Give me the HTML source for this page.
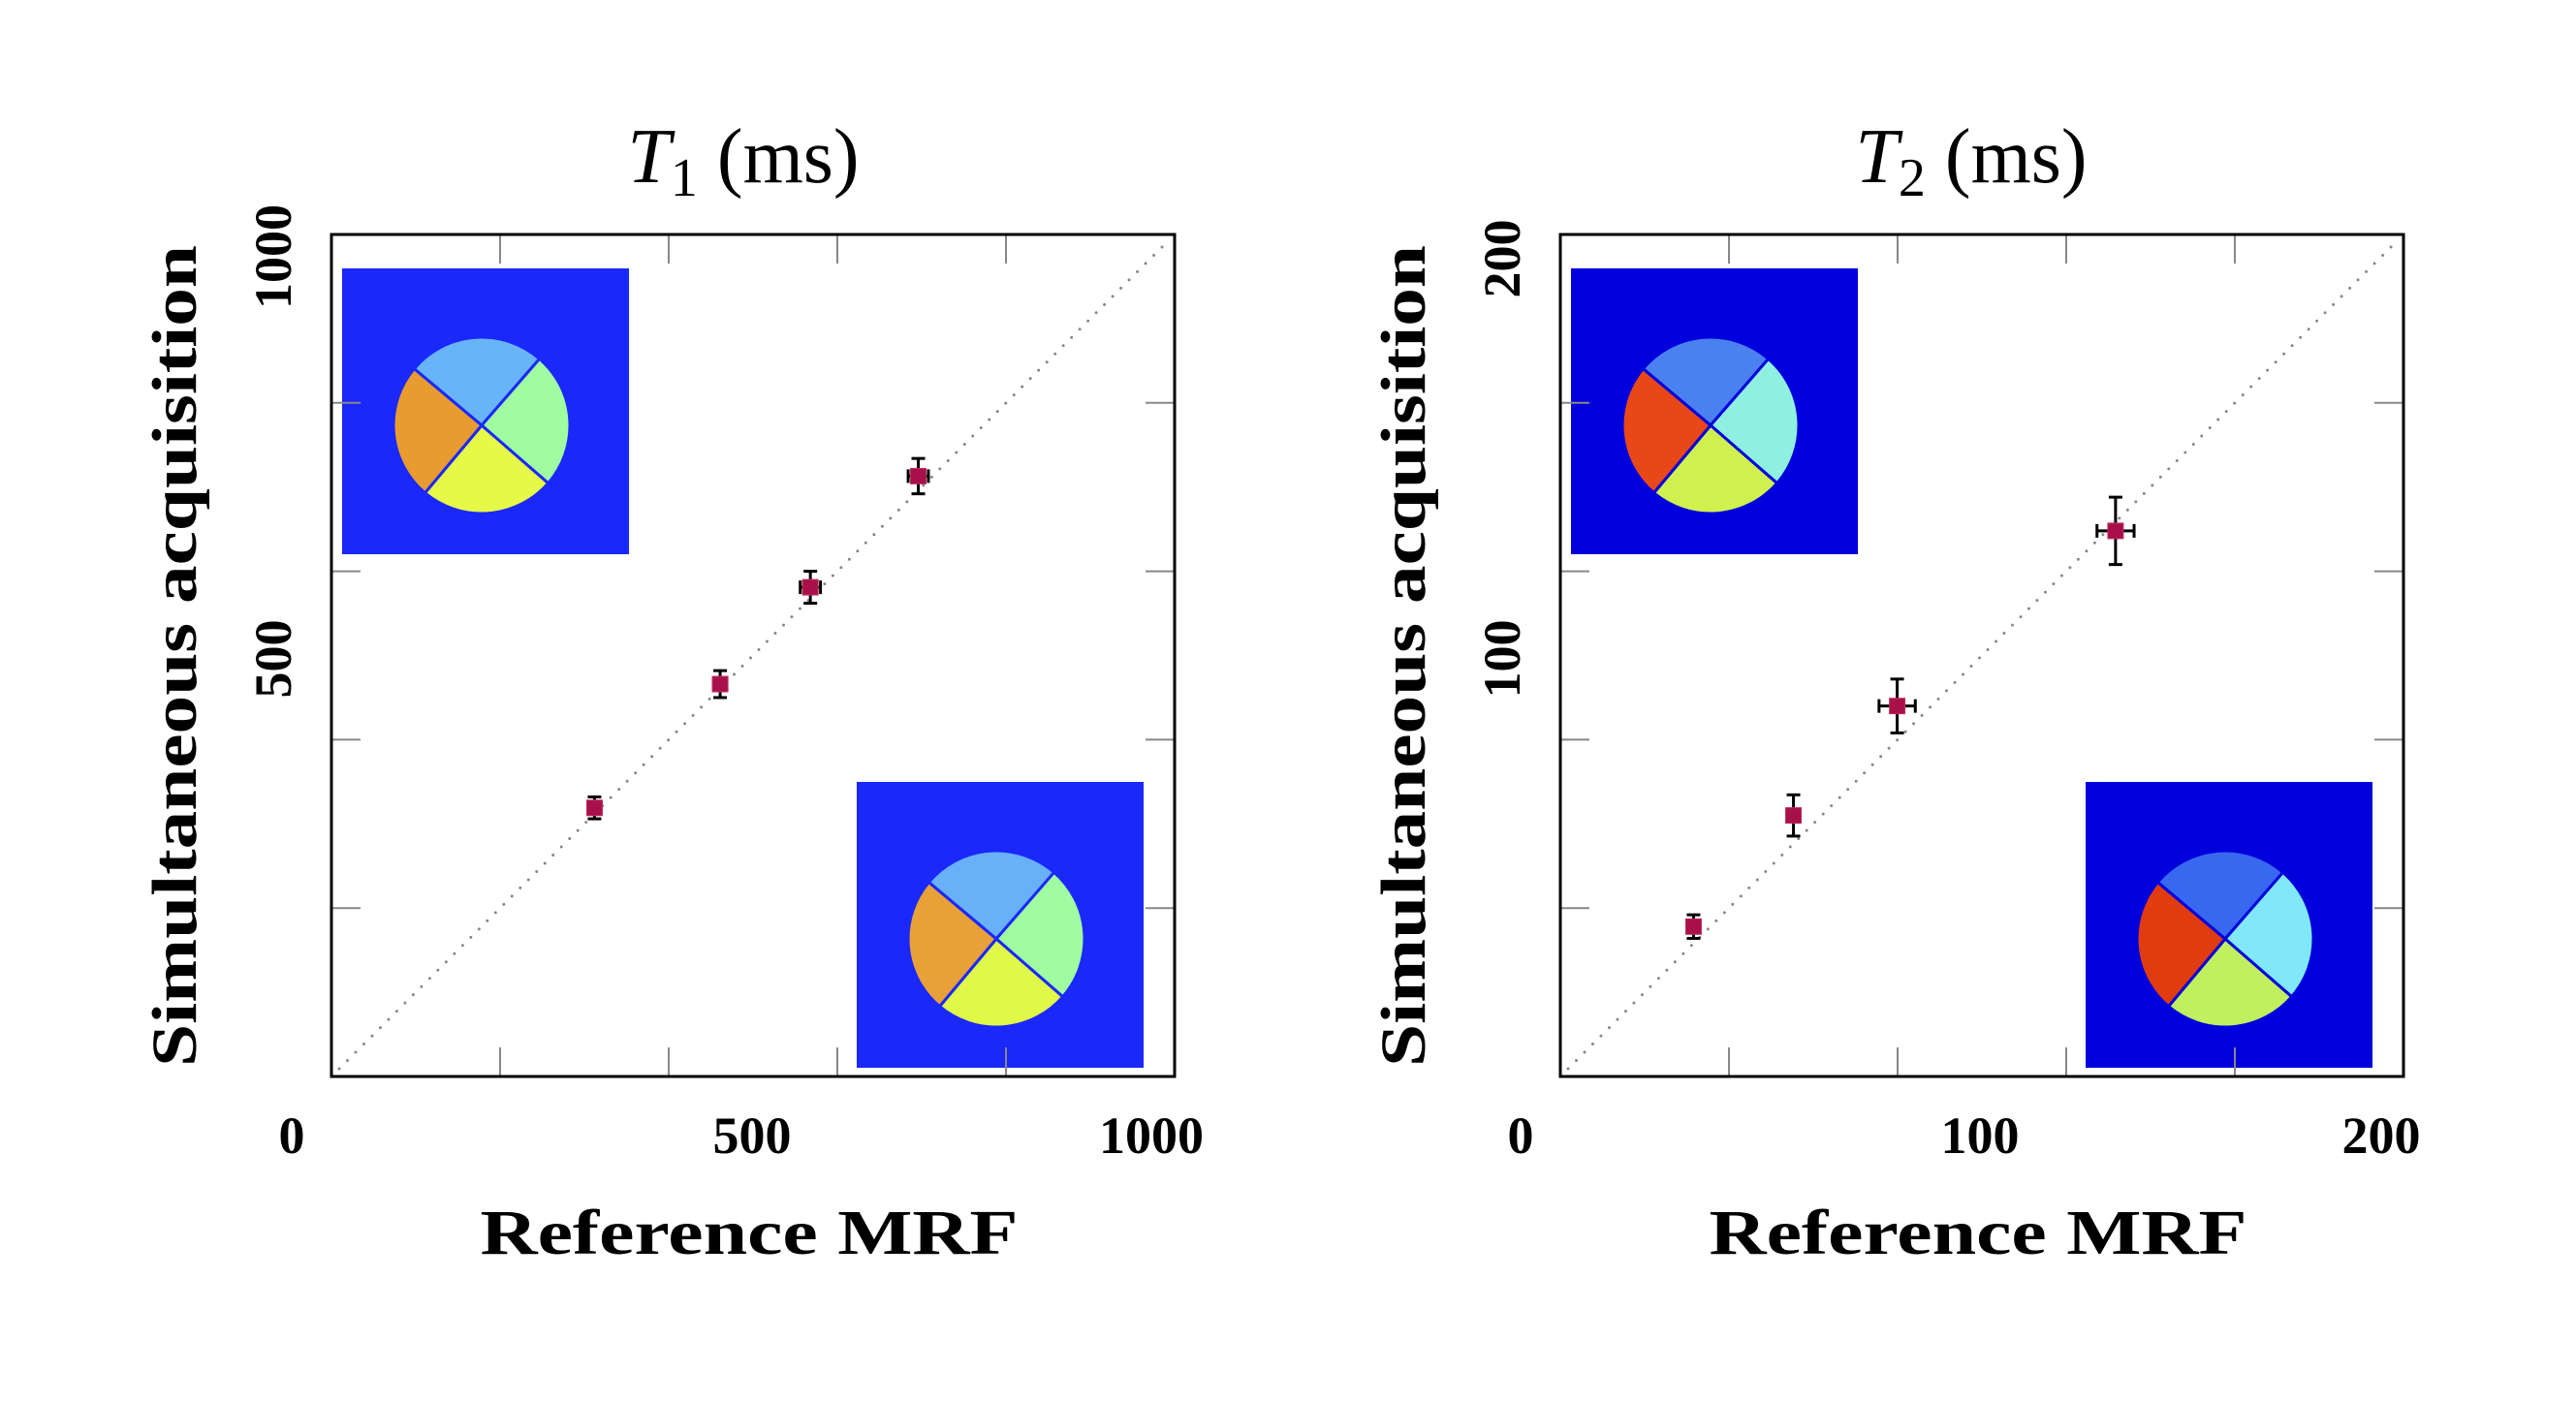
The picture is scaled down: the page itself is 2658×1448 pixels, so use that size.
<!DOCTYPE html>
<html><head><meta charset="utf-8"><style>
html,body{margin:0;padding:0;background:#fff;}
svg{display:block;}
text{font-family:"Liberation Serif",serif;fill:#000;}
</style></head><body>
<svg id="chart" width="2658" height="1448" viewBox="0 0 2658 1448" xmlns="http://www.w3.org/2000/svg">
<g id="p1"></g>
<g id="p2"></g>
</svg>
<script>
// ---- T1 data (ms) ----
const t1Ref = [312, 461, 568, 696];
const t1Sim = [319, 466, 581, 713];
const t1RefErr = [8, 8, 12, 12];
const t1SimErr = [13, 16, 19, 21];
const t1Max = 1000;
const t1XTickLabels = ["0", "500", "1000"];
const t1YTickLabels = ["1000", "500"];
// ---- T2 data (ms) ----
const t2Ref = [31.6, 55.3, 79.9, 131.7];
const t2Sim = [35.6, 62, 88, 129.6];
const t2RefErr = [1.2, 1.6, 4.3, 4.4];
const t2SimErr = [2.8, 4.9, 6.4, 8.0];
const t2Max = 200;
const t2XTickLabels = ["0", "100", "200"];
const t2YTickLabels = ["200", "100"];

const NS = "http://www.w3.org/2000/svg";
function mk(parent, tag, attrs){
  const e = document.createElementNS(NS, tag);
  for (const k in attrs) e.setAttribute(k, attrs[k]);
  parent.appendChild(e);
  return e;
}
function wedge(cx, cy, r, a0, a1){
  const t0 = a0*Math.PI/180, t1 = a1*Math.PI/180;
  return `M${cx},${cy} L${cx+r*Math.cos(t0)},${cy+r*Math.sin(t0)} A${r},${r} 0 0 1 ${cx+r*Math.cos(t1)},${cy+r*Math.sin(t1)} Z`;
}
function inset(g, x, y, bg, cols, name){
  const ig = mk(g, "g", {});
  
  
  mk(ig, "rect", {x:x, y:y, width:296, height:295, fill:bg});
  const cx = x+144, cy = y+162, r = 91;
  const angles = [[-140,-49],[-49,41],[41,130],[130,220]];
  for (let i=0;i<4;i++){
    const p = mk(ig, "path", {d: wedge(cx, cy, r, angles[i][0], angles[i][1]), fill: cols[i], stroke: bg, "stroke-width": 3});
    
    
  }
}
function panel(g, o){
  const L = o.left, R = o.left+870, T = 242, B = 1111;
  const xs = v => L + v/o.max*(R-L);
  const ys = v => B - v/o.max*(B-T);
  // insets
  inset(g, L+11, 277, o.bg, o.colsTop, 'inset-image-top-left');
  inset(g, L+542, 807, o.bg, o.colsBot, 'inset-image-bottom-right');
  // ticks
  for (let i=1;i<5;i++){
    const tx = L + i*(R-L)/5, ty = B - i*(B-T)/5;
    mk(g, "line", {x1:tx, y1:B, x2:tx, y2:B-30, stroke:"#888", "stroke-width":2});
    mk(g, "line", {x1:tx, y1:T, x2:tx, y2:T+30, stroke:"#888", "stroke-width":2});
    mk(g, "line", {x1:L, y1:ty, x2:L+30, y2:ty, stroke:"#888", "stroke-width":2});
    mk(g, "line", {x1:R, y1:ty, x2:R-30, y2:ty, stroke:"#888", "stroke-width":2});
  }
  // diagonal
  const d = mk(g, "line", {x1:xs(0)+8, y1:ys(0)-8, x2:xs(o.max)-8, y2:ys(o.max)+8, stroke:"#888", "stroke-width":3, "stroke-dasharray":"0 12", "stroke-linecap":"round"});
  
  
  // frame
  const f = mk(g, "rect", {x:L, y:T, width:R-L, height:B-T, fill:"none", stroke:"#000", "stroke-width":3});
  
  
  // points
  for (let i=0;i<o.xv.length;i++){
    const px = xs(o.xv[i]), py = ys(o.yv[i]);
    const pg = mk(g, "g", {stroke:"#000", "stroke-width":3});
    
    
    const y0 = ys(o.yv[i]-o.ye[i]), y1 = ys(o.yv[i]+o.ye[i]);
    const x0 = xs(o.xv[i]-o.xe[i]), x1 = xs(o.xv[i]+o.xe[i]);
    mk(pg, "line", {x1:px, y1:y0, x2:px, y2:y1});
    mk(pg, "line", {x1:px-7, y1:y0, x2:px+7, y2:y0});
    mk(pg, "line", {x1:px-7, y1:y1, x2:px+7, y2:y1});
    mk(pg, "line", {x1:x0, y1:py, x2:x1, y2:py});
    mk(pg, "line", {x1:x0, y1:py-7, x2:x0, y2:py+7});
    mk(pg, "line", {x1:x1, y1:py-7, x2:x1, y2:py+7});
    mk(pg, "rect", {x:px-8, y:py-8, width:16, height:16, fill:"#a8104a", stroke:"#c03060", "stroke-width":1});
  }
  // title
  const t = mk(g, "text", {x:o.titleX, y:188, "font-size":80, "text-anchor":"middle"});
  
  
  t.innerHTML = `<tspan font-style="italic">T</tspan><tspan font-size="56" dy="14">${o.sub}</tspan><tspan dy="-14"> (ms)</tspan>`;
  // x tick labels
  o.xtl.forEach((s, i) => {
    const e = mk(g, "text", {x:o.xtlX[i], y:1190, "font-size":54, "font-weight":"bold", "text-anchor":"middle"});
    e.textContent = s;
    
    
  });
  o.ytl.forEach((s, i) => {
    const e = mk(g, "text", {x:0, y:0, "font-size":54, "font-weight":"bold", "text-anchor":"middle", transform:`translate(${o.ytlX},${o.ytlY[i]}) rotate(-90)`});
    e.textContent = s;
    
    
  });
  const xl = mk(g, "text", {x:o.xlabX, y:1294, "font-size":66, "font-weight":"bold", "text-anchor":"middle", textLength:555, lengthAdjust:"spacingAndGlyphs"});
  xl.textContent = "Reference MRF";
  
  
  const yl = mk(g, "text", {x:0, y:0, "font-size":66, "font-weight":"bold", "text-anchor":"middle", textLength:848, lengthAdjust:"spacingAndGlyphs", transform:`translate(${o.ylabX},677) rotate(-90)`});
  yl.textContent = "Simultaneous acquisition";
  
  
}
panel(document.getElementById('p1'), {
  left:342, max:t1Max, xv:t1Ref, yv:t1Sim, xe:t1RefErr, ye:t1SimErr,
  bg:"#1a28fa", colsTop:["#68b4f8","#a0fca0","#e6f848","#e89c30"], colsBot:["#68b0f8","#a0fca0","#e0f848","#e8a038"],
  sub:"1", titleX:767, xtl:t1XTickLabels, xtlX:[301,776,1188], ytl:t1YTickLabels, ytlX:300, ytlY:[265,680],
  xlabX:773, ylabX:202
});
panel(document.getElementById('p2'), {
  left:1610, max:t2Max, xv:t2Ref, yv:t2Sim, xe:t2RefErr, ye:t2SimErr,
  bg:"#0000dc", colsTop:["#4a80f0","#90f0e0","#d0f050","#e84818"], colsBot:["#3868f0","#80e8f8","#c0f060","#e03c10"],
  sub:"2", titleX:2034, xtl:t2XTickLabels, xtlX:[1569,2043,2457], ytl:t2YTickLabels, ytlX:1568, ytlY:[267,680],
  xlabX:2041, ylabX:1470
});
</script>
</body></html>
